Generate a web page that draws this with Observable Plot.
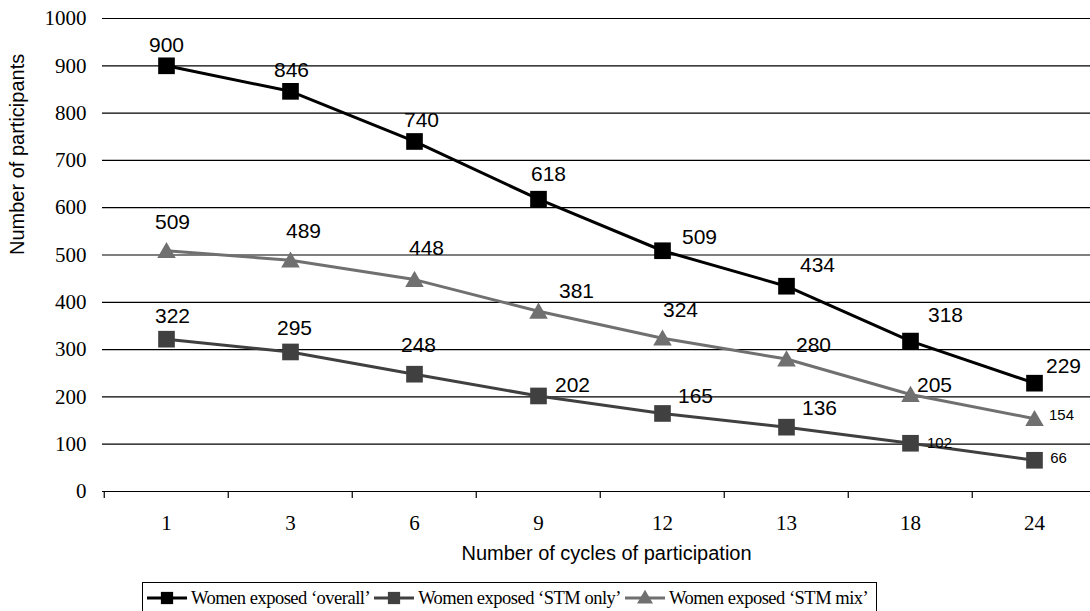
<!DOCTYPE html>
<html>
<head>
<meta charset="utf-8">
<script src="https://cdn.jsdelivr.net/npm/d3@7"></script>
<script src="https://cdn.jsdelivr.net/npm/@observablehq/plot@0.6"></script>
<style>
  html, body { margin: 0; padding: 0; background: #fff; overflow: hidden; }
  #wrap { position: relative; width: 1090px; height: 611px; overflow: hidden; background: #fff; }
  #legend {
    position: absolute; left: 142px; top: 582px;
    border: 1px solid #000; padding: 4px 4px 10px 4px;
    display: flex; align-items: center; background: #fff;
    font-family: "Liberation Serif", "Times New Roman", serif; font-size: 18.5px; letter-spacing: -0.5px; line-height: 22px; color: #000;
    white-space: nowrap;
  }
  .item { display: flex; align-items: center; margin-right: 4px; }
  .item svg { margin-right: 4px; display: block; }
</style>
</head>
<body>
<div id="wrap"><div id="chart"></div><div id="legend"></div></div>
<script>
const categories = ["1", "3", "6", "9", "12", "13", "18", "24"];
const overall = [900, 846, 740, 618, 509, 434, 318, 229];
const stmOnly = [322, 295, 248, 202, 165, 136, 102, 66];
const stmMix = [509, 489, 448, 381, 324, 280, 205, 154];
const yTicks = [0, 100, 200, 300, 400, 500, 600, 700, 800, 900, 1000];
const seriesNames = ["Women exposed ‘overall’", "Women exposed ‘STM only’", "Women exposed ‘STM mix’"];
const xTitle = "Number of cycles of participation";
const yTitle = "Number of participants";

// layout / styling (not data)
const W = 1098, H = 580, ML = 102, MR = 0, MT = 18, MB = 89;
const sans = "'Liberation Sans', Arial, sans-serif";
const serif = "'Liberation Serif', 'Times New Roman', serif";
const styles = [
  {color: "#000000", symbol: "square", r: 9.4},
  {color: "#404040", symbol: "square", r: 9.4},
  {color: "#707070", symbol: "triangle", r: 6.9}
];
// label offsets [dx, dy, small?] relative to each marker
const labelOffsets = [
  [[0,-21],[1,-21],[7,-21],[10,-25],[37,-13],[31,-21],[35,-26],[29,-17]],
  [[6,-23],[4,-24],[4,-29],[34,-11],[33,-17],[33,-19],[29,0,1],[24,-2,1]],
  [[6,-28],[13,-29],[12,-31],[38,-20],[18,-28],[27,-14],[24,-9],[27,-3,1]]
];

const seriesValues = [overall, stmOnly, stmMix];
const rows = [];
seriesValues.forEach((vals, s) => vals.forEach((v, i) => rows.push({series: s, cat: categories[i], value: v, i})));

const step = (W - ML - MR) / categories.length;

const marks = [
  Plot.ruleY(yTicks, {y: d => d, stroke: "#000", strokeWidth: 1.2}),
  Plot.ruleX(categories, {x: d => d, y1: 0, y2: 0, dx: -step / 2, insetBottom: -7, stroke: "#000", strokeWidth: 1.2}),
  Plot.text(yTicks, {y: d => d, frameAnchor: "left", dx: -16, textAnchor: "end", text: d => String(d), fontSize: 21, fontFamily: serif, fill: "#000", lineAnchor: "middle"}),
  Plot.text(categories, {x: d => d, frameAnchor: "bottom", dy: 32, text: d => d, fontSize: 21, fontFamily: serif, fill: "#000", lineAnchor: "middle"}),
  Plot.text([xTitle], {frameAnchor: "bottom", dx: 6, dy: 62, text: d => d, fontSize: 20, fontFamily: sans, fill: "#000", lineAnchor: "middle"}),
  Plot.text([yTitle], {frameAnchor: "left", dx: -85, rotate: -90, text: d => d, fontSize: 20, fontFamily: sans, fill: "#000", lineAnchor: "middle"})
];

[2, 1, 0].forEach(s => {
  const data = rows.filter(r => r.series === s);
  marks.push(Plot.line(data, {x: "cat", y: "value", stroke: styles[s].color, strokeWidth: 3}));
});
[2, 1, 0].forEach(s => {
  const data = rows.filter(r => r.series === s);
  marks.push(Plot.dot(data, {x: "cat", y: "value", symbol: styles[s].symbol, r: styles[s].r, fill: styles[s].color, stroke: "none", dy: styles[s].symbol === "triangle" ? 2 : 0}));
});
rows.forEach(r => {
  const off = labelOffsets[r.series][r.i];
  marks.push(Plot.text([r], {x: "cat", y: "value", text: d => String(d.value), dx: off[0], dy: off[1],
    fontSize: off[2] ? 15 : 21, fontFamily: sans, fill: "#000", textAnchor: "middle", lineAnchor: "middle"}));
});

const chart = Plot.plot({
  width: W, height: H,
  marginLeft: ML, marginRight: MR, marginTop: MT, marginBottom: MB,
  x: {type: "point", domain: categories, padding: 0.5, axis: null},
  y: {domain: [0, 1000], axis: null},
  style: {background: "#fff", maxWidth: "none", overflow: "visible"},
  marks
});
document.getElementById("chart").appendChild(chart);

// legend
const legend = document.getElementById("legend");
seriesNames.forEach((name, s) => {
  const item = document.createElement("div");
  item.className = "item";
  const ns = "http://www.w3.org/2000/svg";
  const svg = document.createElementNS(ns, "svg");
  svg.setAttribute("width", 40); svg.setAttribute("height", 20);
  const line = document.createElementNS(ns, "line");
  line.setAttribute("x1", 0); line.setAttribute("x2", 40); line.setAttribute("y1", 10); line.setAttribute("y2", 10);
  line.setAttribute("stroke", styles[s].color); line.setAttribute("stroke-width", 3);
  svg.appendChild(line);
  const sym = document.createElementNS(ns, "path");
  const sz = styles[s].symbol === "square" ? 150 : 110;
  sym.setAttribute("d", d3.symbol(styles[s].symbol === "square" ? d3.symbolSquare : d3.symbolTriangle, sz)());
  sym.setAttribute("transform", `translate(20,${styles[s].symbol === "square" ? 10 : 11})`);
  sym.setAttribute("fill", styles[s].color);
  svg.appendChild(sym);
  item.appendChild(svg);
  const span = document.createElement("span");
  span.textContent = name;
  item.appendChild(span);
  legend.appendChild(item);
});
</script>
</body>
</html>
